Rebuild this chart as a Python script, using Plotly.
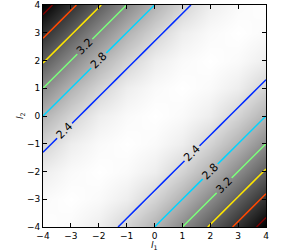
import plotly.graph_objects as go

# Grid coordinates (l1, l2)
l1_vals = [-4, -3, -2, -1, 0, 1, 2, 3, 4]
l2_vals = [-4, -3, -2, -1, 0, 1, 2, 3, 4]

# Function value read along |l1 - l2| = 0..8 (surface depends only on the diagonal distance)
dist_profile = [2.05, 2.10, 2.22, 2.48, 2.80, 3.20, 3.64, 4.09, 4.56]

# Contour levels and their line colours (jet-like)
levels = [2.4, 2.8, 3.2, 3.6, 4.0, 4.4]
level_colors = ["rgb(0,43,255)", "rgb(0,212,255)", "rgb(123,255,123)",
                "rgb(255,230,0)", "rgb(255,72,0)", "rgb(128,0,0)"]

z = [[dist_profile[abs(i - j)] for i in range(len(l1_vals))] for j in range(len(l2_vals))]

fig = go.Figure()
fig.add_trace(go.Heatmap(
    x=l1_vals, y=l2_vals, z=z, zsmooth="best",
    colorscale=[[0, "white"], [1, "black"]],
    zmin=min(dist_profile), zmax=max(dist_profile),
    showscale=False, hoverinfo="skip",
))
for lev, col in zip(levels, level_colors):
    fig.add_trace(go.Contour(
        x=l1_vals, y=l2_vals, z=z,
        contours=dict(start=lev, end=lev, size=1, coloring="lines",
                      showlabels=True, labelformat=".1f",
                      labelfont=dict(size=11, color="black", family="DejaVu Sans")),
        colorscale=[[0, col], [1, col]],
        line=dict(width=1.5), showscale=False, hoverinfo="skip",
    ))

axis_common = dict(
    range=[-4, 4], tickmode="array", tickvals=[-4, -3, -2, -1, 0, 1, 2, 3, 4],
    ticktext=["\u22124", "\u22123", "\u22122", "\u22121", "0", "1", "2", "3", "4"],
    ticks="inside", ticklen=4, tickcolor="black", tickwidth=1,
    showline=True, linecolor="black", linewidth=1, mirror="ticks",
    showgrid=False, zeroline=False, automargin=False,
    tickfont=dict(family="DejaVu Sans", size=9, color="black"),
)
fig.update_xaxes(**axis_common)
fig.update_yaxes(**axis_common)

title_font = dict(family="DejaVu Sans", size=9, color="black")
fig.add_annotation(text="<i>l</i><sub>1</sub>", xref="paper", yref="paper",
                   x=0.5, y=-0.085, xanchor="center", yanchor="middle",
                   showarrow=False, font=title_font, borderpad=0)
fig.add_annotation(text="<i>l</i><sub>2</sub>", xref="paper", yref="paper",
                   x=-0.103, y=0.5, xanchor="center", yanchor="middle", textangle=-90,
                   showarrow=False, font=title_font, borderpad=0)

fig.update_layout(
    width=299, height=250,
    margin=dict(l=43, r=33, t=5, b=23),
    paper_bgcolor="white", plot_bgcolor="white",
    showlegend=False,
)
fig.write_html("out.html", config={"displayModeBar": False, "staticPlot": True},
               post_script="document.body.style.margin='0';document.body.style.overflow='hidden';")
